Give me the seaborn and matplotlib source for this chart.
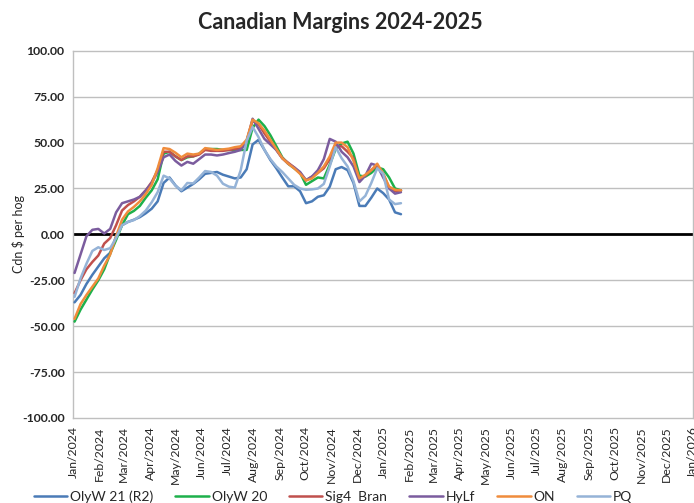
import pandas as pd
import matplotlib.pyplot as plt
import matplotlib.dates as mdates
import matplotlib.ticker as mticker
import seaborn as sns

# weekly margins, Cdn $ per hog
week_start = '2024-01-03'
n_weeks = 56

olyw21 = [-37, -33, -27, -22, -17.5, -13, -10, -1, 5, 6.8, 8, 9.4, 11.5, 14, 18, 28,
          31, 26.7, 23.5, 25.5, 27.5, 30, 33, 33.5, 34, 32.5, 31.5, 30.5, 31, 35.5, 49, 51.5,
          46, 40.5, 36, 31, 26.2, 26.2, 23.5, 17, 18, 20.5, 21.3, 26, 35.5, 36.7,
          35, 28, 15.5, 15.5, 20, 25, 22.5, 19, 12, 11]
olyw20 = [-47.5, -41, -35.5, -30, -25, -19, -10.5, -3, 5, 11, 12.8, 15.5, 20, 24, 30, 44,
          45, 42.5, 40.5, 42, 42.5, 44, 46.5, 46.5, 46.5, 46, 46, 46, 46, 46, 58, 62.5,
          59, 54, 48, 42, 38.5, 36, 33.5, 27, 29, 31, 30.5, 38, 46.5, 49.5,
          50.5, 44, 32, 31.5, 33.5, 36.5, 35.5, 31, 25, 24]
sig4 = [-32, -25, -19, -15, -11.5, -5, -2, 5, 13, 16, 18, 20.5, 24, 28.5, 35, 45,
        45, 42.5, 40.5, 42.5, 42.5, 43.5, 46, 45.5, 45.5, 45.5, 46, 46.5, 47, 51, 62, 60,
        55, 50.5, 46, 41.5, 39, 36.5, 33.5, 29.5, 31.5, 33.5, 36, 41, 48, 48,
        45, 41.5, 29.5, 32, 35, 37.5, 33, 25.5, 23.5, 24]
hylf = [-21, -11, -1, 2.5, 3, 0.5, 3, 12, 17, 18, 19, 20.5, 24, 28, 34, 42,
        43.5, 40, 37.5, 39.5, 38.5, 41, 43.5, 43.5, 43, 43.5, 44.3, 45, 46, 50.5, 63, 57.5,
        52, 49, 46, 41.5, 38.5, 36.5, 34, 29.5, 31.5, 35, 41, 52, 50.5, 45,
        42, 37, 28.5, 32, 38.5, 37.5, 31, 25, 22.2, 23]
ont = [-46, -38, -33, -28.5, -24, -17, -11, -1, 8, 12.5, 15, 18, 22, 27, 36, 47,
       46.5, 44.5, 42, 44, 43.5, 44, 47, 46.5, 46, 46.3, 46.7, 47.5, 48, 51.6, 62.5, 60.5,
       56.5, 51.5, 46.5, 41.5, 38.5, 36, 33, 29.4, 30.5, 33.5, 37, 42.5, 50, 50,
       47.5, 40, 30.5, 32.5, 35, 38.5, 33, 26, 24.3, 24]
pq = [-34, -24, -16, -9, -7, -8.5, -7.5, -2, 5, 6.8, 7.8, 10, 13, 17.5, 23, 32,
      30.5, 26.5, 24, 28, 27.8, 31, 34.5, 34, 32, 27.6, 26, 25.5, 35, 51, 58.5, 53,
      46, 41, 37, 34, 30.5, 27, 25, 24.3, 24.5, 25, 27.5, 37, 47.5, 41.5,
      37, 29, 18, 21, 28, 36, 33, 19, 16.5, 17]

series_names = ['OlyW 21 (R2)', 'OlyW 20', 'Sig4  Bran', 'HyLf', 'ON', 'PQ']
series_values = [olyw21, olyw20, sig4, hylf, ont, pq]
series_colors = ['#4A7BB7', '#1DB04B', '#C0504D', '#7B5C9E', '#F08C3C', '#95B3D7']

dates = pd.date_range(week_start, periods=n_weeks, freq='7D')
frames = []
for name, vals in zip(series_names, series_values):
    frames.append(pd.DataFrame({'Week': dates, 'Margin': vals, 'Series': name}))
df = pd.concat(frames, ignore_index=True)

sns.set_style("white")
plt.rcParams['font.family'] = ['Lato', 'DejaVu Sans']

fig = plt.figure(figsize=(6.94, 5.03), dpi=100)
ax = fig.add_axes([0.105, 0.169, 0.893, 0.730])

# gridlines first so the data sits on top
for v in [-75, -50, -25, 25, 50, 75]:
    ax.axhline(v, color='#BFBFBF', lw=1.0, zorder=0)
ax.axhline(0, color='black', lw=2.0, zorder=1)

sns.lineplot(data=df, x='Week', y='Margin', hue='Series', hue_order=series_names,
             palette=dict(zip(series_names, series_colors)), linewidth=1.8, ax=ax,
             zorder=3)

ax.set_xlim(pd.Timestamp('2024-01-01'), pd.Timestamp('2026-01-01'))
ax.set_ylim(-100, 100)
ax.yaxis.set_major_locator(mticker.MultipleLocator(25))
ax.yaxis.set_major_formatter(mticker.FuncFormatter(lambda v, p: f'{v:.2f}'))
ax.xaxis.set_major_locator(mdates.MonthLocator())
ax.xaxis.set_major_formatter(mdates.DateFormatter('%b/%Y'))

for lbl in ax.get_yticklabels():
    lbl.set_fontweight('bold')
    lbl.set_fontsize(8.8)
for lbl in ax.get_xticklabels():
    lbl.set_rotation(90)
    lbl.set_fontsize(8.8)
ax.tick_params(axis='both', length=0, pad=6)

for s in ax.spines.values():
    s.set_color('#BFBFBF')
    s.set_linewidth(1.0)

ax.set_xlabel('')
ax.set_ylabel('Cdn $ per hog', fontsize=9)
ax.yaxis.set_label_coords(-0.078, 0.5)
fig.text(0.49, 0.955, 'Canadian Margins 2024-2025', ha='center', va='center',
         fontsize=15.5, fontweight='bold')

ax.legend_.remove()
handles, labels = ax.get_legend_handles_labels()
fig.legend(handles, labels, loc='center', bbox_to_anchor=(0.48, 0.012), ncol=6,
           frameon=False, fontsize=10, handlelength=2.4, handletextpad=0.2,
           columnspacing=1.6)

plt.savefig('out.png', dpi=100)
